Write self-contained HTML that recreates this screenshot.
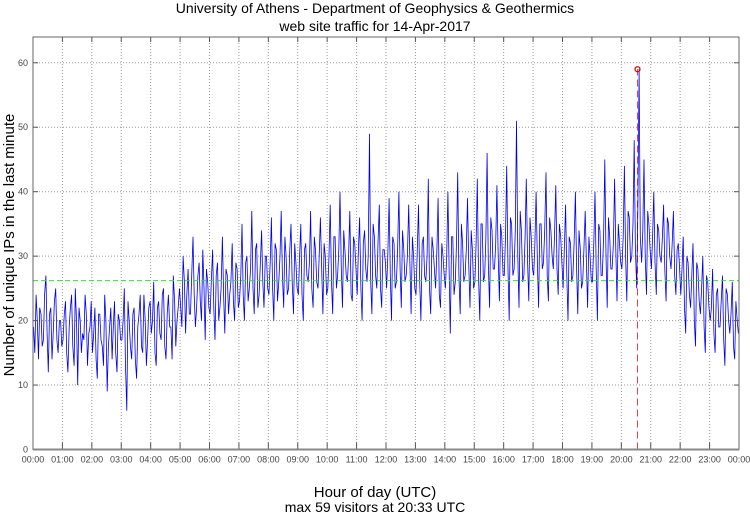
<!DOCTYPE html>
<html><head><meta charset="utf-8"><style>
html,body{margin:0;padding:0;background:#fff;}
svg{display:block;font-family:"Liberation Sans",sans-serif;}
</style></head><body>
<svg id="c" width="750" height="515" viewBox="0 0 750 515">
<text x="375" y="13" font-size="14" text-anchor="middle">University of Athens - Department of Geophysics &amp; Geothermics</text>
<text x="375" y="31" font-size="14" text-anchor="middle">web site traffic for 14-Apr-2017</text>
<text x="375" y="497" font-size="15" text-anchor="middle">Hour of day (UTC)</text>
<text x="375" y="512" font-size="14" text-anchor="middle">max 59 visitors at 20:33 UTC</text>
<text transform="translate(14,245) rotate(-90)" font-size="15" text-anchor="middle">Number of unique IPs in the last minute</text>
<g id="grid"></g><g id="marker"></g><g id="series"></g><g id="axes"></g>
</svg>
<script>
const yTicks=[0,10,20,30,40,50,60];
const xTickLabels=["00:00","01:00","02:00","03:00","04:00","05:00","06:00","07:00","08:00","09:00","10:00","11:00","12:00","13:00","14:00","15:00","16:00","17:00","18:00","19:00","20:00","21:00","22:00","23:00","00:00"];
const meanValue=26.2;
const maxValue=59;
const maxMinute=20*60+33;
const values=[
19,24,14,21,17,27,12,22,18,25,15,20,
17,23,12,22,16,25,10,20,18,24,13,19,
15,22,11,21,16,24,9,19,14,23,12,20,
17,25,6,20,14,22,11,21,16,24,13,22,
18,26,13,23,17,25,14,24,19,27,16,22,
22,30,18,28,21,33,19,27,23,31,17,26,
21,31,17,29,22,33,18,27,24,32,20,28,
23,35,20,30,25,37,21,32,24,34,22,30,
24,36,20,31,26,37,22,30,25,35,21,29,
24,35,20,32,26,37,22,31,25,36,21,30,
25,38,21,33,27,40,22,31,26,37,23,32,
24,36,20,34,26,49,21,33,25,38,22,31,
25,39,20,32,26,40,22,31,27,38,21,30,
24,38,20,33,26,42,21,31,25,39,22,30,
25,40,18,33,26,43,21,32,27,39,22,31,
26,42,20,35,27,46,22,34,28,41,23,33,
27,44,20,35,28,51,22,34,27,42,23,33,
27,40,22,35,29,43,23,34,28,41,24,33,
25,38,20,32,27,40,21,31,26,37,22,30,
26,40,20,34,27,45,22,33,28,42,23,32,
28,44,23,36,30,48,25,59,29,45,24,35,
28,40,24,34,29,38,23,35,28,37,24,32,
24,33,18,29,22,32,16,28,21,30,15,26,
20,28,15,25,19,27,13,24,18,26,14,20
];
const valuesB=[
15,20,22,16,24,18,21,14,23,17,20,16,
21,15,19,24,13,20,22,15,17,21,18,23,
18,14,21,17,13,20,16,22,19,15,21,17,
20,13,23,16,21,14,19,24,15,20,17,23,
20,15,22,18,24,16,21,19,14,23,20,25,
19,26,24,21,27,24,22,29,20,25,28,22,
26,22,27,20,25,24,28,21,26,23,29,22,
27,24,29,23,28,25,31,22,29,26,30,25,
29,25,32,23,30,27,33,24,31,26,32,25,
30,24,31,27,29,25,33,26,30,28,32,24,
30,26,33,25,31,28,34,27,30,24,33,28,
31,25,32,28,30,26,35,27,32,25,31,29,
30,27,33,25,31,28,34,26,30,29,33,25,
31,26,32,27,30,25,33,28,31,24,32,27,
30,28,33,24,32,27,35,26,31,29,34,25,
32,27,35,26,33,29,36,28,32,30,35,27,
33,28,36,27,34,30,37,26,33,29,36,28,
32,29,35,28,34,27,36,30,33,28,35,29,
31,27,33,26,32,28,34,25,31,29,33,26,
32,28,35,27,33,30,36,28,32,31,35,29,
33,30,37,29,35,31,38,33,34,30,37,31,
33,29,35,30,33,28,36,30,32,27,31,28,
28,22,30,24,27,20,29,23,25,19,27,22,
22,18,24,19,23,17,25,20,21,16,23,18
];
const L=33,R=739,T=37,B=449.5,VMAX=64;
const xs=m=>L+(R-L)*m/1440;
const ys=v=>B-(B-T)*v/VMAX;
const NS="http://www.w3.org/2000/svg";
function mk(tag,attrs,parent){const e=document.createElementNS(NS,tag);for(const k in attrs)e.setAttribute(k,attrs[k]);parent.appendChild(e);return e;}
const grid=document.getElementById('grid'),axes=document.getElementById('axes'),series=document.getElementById('series'),marker=document.getElementById('marker');
yTicks.forEach(v=>{
  if(v>0){const g=mk('line',{x1:L,x2:R,y1:ys(v),y2:ys(v),stroke:'#999','stroke-dasharray':'1,2','stroke-width':1},grid);
  
  }
  const t=mk('text',{x:L-5,y:ys(v)+3,'font-size':9,'text-anchor':'end',fill:'#444'},axes);t.textContent=v;
  
  
  mk('line',{x1:L,x2:L+5,y1:ys(v),y2:ys(v),stroke:'#555'},axes);
  mk('line',{x1:R,x2:R-5,y1:ys(v),y2:ys(v),stroke:'#555'},axes);
});
xTickLabels.forEach((lab,i)=>{
  const x=xs(i*60);
  if(i>0&&i<24){const g=mk('line',{x1:x,x2:x,y1:T,y2:B,stroke:'#999','stroke-dasharray':'1,2'},grid);
  
  }
  mk('line',{x1:x,x2:x,y1:B,y2:B-7,stroke:'#555'},axes);
  mk('line',{x1:x,x2:x,y1:T,y2:T+5,stroke:'#555'},axes);
  const t=mk('text',{x:x,y:B+13,'font-size':9,'text-anchor':'middle',fill:'#444'},axes);t.textContent=lab;
  
  
});
const fr=mk('rect',{x:L,y:T,width:R-L,height:B-T,fill:'none',stroke:'#666','stroke-width':1},axes);


mk('line',{x1:L,x2:R,y1:B,y2:B,stroke:'#888','stroke-width':2},axes);
const mx=xs(maxMinute);
const vl=mk('line',{x1:mx,x2:mx,y1:ys(0),y2:ys(maxValue),stroke:'#dd4444','stroke-dasharray':'7,4','stroke-width':1},marker);


const step=1440/values.length;
const pts=[];
values.forEach((v,i)=>{
  pts.push(xs(i*step+step*0.25).toFixed(1)+','+ys(v).toFixed(1));
  pts.push(xs(i*step+step*0.75).toFixed(1)+','+ys(valuesB[i]).toFixed(1));
});
const pl=mk('polyline',{points:pts.join(' '),fill:'none',stroke:'#0000ee','stroke-width':0.8},series);


const ml=mk('line',{x1:L,x2:R,y1:ys(meanValue),y2:ys(meanValue),stroke:'#33dd33','stroke-dasharray':'5,3','stroke-width':1},series);


const mc=mk('circle',{cx:mx,cy:ys(maxValue),r:2.5,fill:'none',stroke:'#dd0000','stroke-width':1.2},series);


</script>
</body></html>
